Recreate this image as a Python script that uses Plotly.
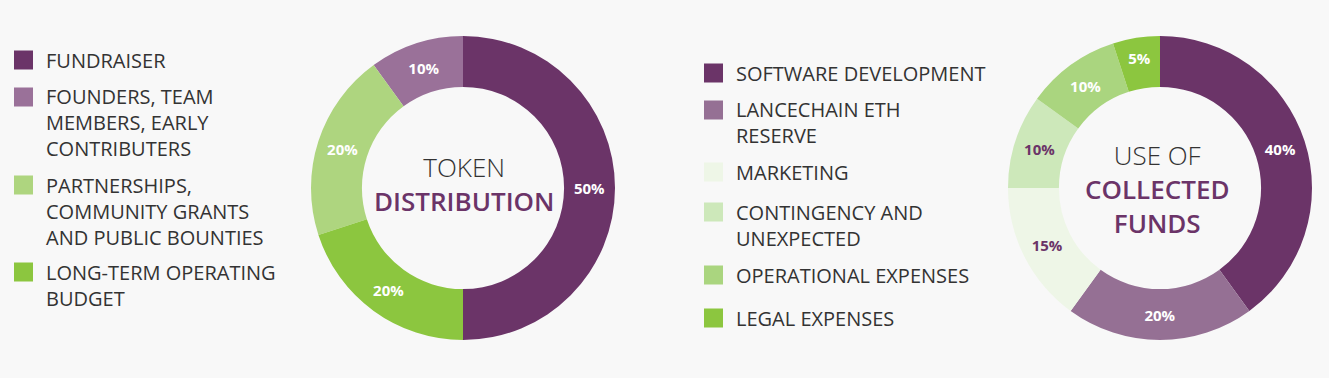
import plotly.graph_objects as go

# ---- data ----
token_labels = ["FUNDRAISER", "FOUNDERS, TEAM MEMBERS, EARLY CONTRIBUTERS",
                "PARTNERSHIPS, COMMUNITY GRANTS AND PUBLIC BOUNTIES",
                "LONG-TERM OPERATING BUDGET"]
token_legend_lines = [["FUNDRAISER"],
                      ["FOUNDERS, TEAM", "MEMBERS, EARLY", "CONTRIBUTERS"],
                      ["PARTNERSHIPS,", "COMMUNITY GRANTS", "AND PUBLIC BOUNTIES"],
                      ["LONG-TERM OPERATING", "BUDGET"]]
token_values = [50, 10, 20, 20]
token_colors = ["#6b3468", "#9a7199", "#aed57f", "#8cc63f"]
token_text_colors = ["#ffffff", "#ffffff", "#ffffff", "#ffffff"]

funds_labels = ["SOFTWARE DEVELOPMENT", "LANCECHAIN ETH RESERVE", "MARKETING",
                "CONTINGENCY AND UNEXPECTED", "OPERATIONAL EXPENSES", "LEGAL EXPENSES"]
funds_legend_lines = [["SOFTWARE DEVELOPMENT"],
                      ["LANCECHAIN ETH", "RESERVE"],
                      ["MARKETING"],
                      ["CONTINGENCY AND", "UNEXPECTED"],
                      ["OPERATIONAL EXPENSES"],
                      ["LEGAL EXPENSES"]]
funds_values = [40, 20, 15, 10, 10, 5]
funds_colors = ["#6b3468", "#957094", "#eef6e7", "#cde8ba", "#aad57f", "#8cc63f"]
funds_text_colors = ["#ffffff", "#ffffff", "#6b3468", "#6b3468", "#ffffff", "#ffffff"]

W, H = 1329, 378
BG = "#f8f8f8"
FONT = "Open Sans"
LEG_SIZE = 20
LINE_H = LEG_SIZE * 1.3

fig = go.Figure()

fig.add_trace(go.Pie(
    labels=token_labels, values=token_values, sort=False,
    direction="counterclockwise", rotation=0, hole=0.665,
    marker=dict(colors=token_colors, line=dict(width=0)),
    textinfo="percent", textposition="inside", insidetextorientation="horizontal",
    textfont=dict(family=FONT, size=15, color=token_text_colors, weight=700),
    domain=dict(x=[311 / W, 615 / W], y=[1 - 340 / H, 1 - 36 / H]),
    showlegend=False, hoverinfo="skip",
))

fig.add_trace(go.Pie(
    labels=funds_labels, values=funds_values, sort=False,
    direction="clockwise", rotation=0, hole=0.665,
    marker=dict(colors=funds_colors, line=dict(width=0)),
    textinfo="percent", textposition="inside", insidetextorientation="horizontal",
    textfont=dict(family=FONT, size=15, color=funds_text_colors, weight=700),
    domain=dict(x=[1008 / W, 1312 / W], y=[1 - 340 / H, 1 - 36 / H]),
    showlegend=False, hoverinfo="skip",
))

shapes = []
annotations = []

def add_legend(lines_list, colors, sq_x, text_x, first_y):
    for lines, col, y0 in zip(lines_list, colors, first_y):
        shapes.append(dict(type="rect", xref="paper", yref="paper",
                           x0=sq_x / W, x1=(sq_x + 19) / W,
                           y0=1 - (y0 + 9.5) / H, y1=1 - (y0 - 9.5) / H,
                           fillcolor=col, line=dict(width=0)))
        yc = y0 + (len(lines) - 1) * LINE_H / 2
        annotations.append(dict(xref="paper", yref="paper", x=text_x / W,
                                y=1 - yc / H, text="<br>".join(lines), align="left",
                                showarrow=False, xanchor="left", yanchor="middle",
                                font=dict(family=FONT, size=LEG_SIZE, color="#333333")))

add_legend(token_legend_lines, token_colors, 14, 44, [60, 97, 185, 272])
add_legend(funds_legend_lines, funds_colors, 704, 734, [73, 110, 172, 212, 275, 318])

def center_text(x, y, lines):
    txt = "<br>".join(
        "<span style='font-weight:%d;color:%s'>%s</span>" % (w, c, t) for t, w, c in lines)
    annotations.append(dict(xref="paper", yref="paper", x=x / W, y=1 - y / H, text=txt,
                            showarrow=False, xanchor="center", yanchor="middle",
                            font=dict(family=FONT, size=26, color="#333333")))

center_text(464, 184, [("TOKEN", 300, "#333333"), ("DISTRIBUTION", 600, "#6b3468")])
center_text(1157, 189, [("USE OF", 300, "#333333"), ("COLLECTED", 600, "#6b3468"),
                        ("FUNDS", 600, "#6b3468")])

fig.update_layout(
    width=W, height=H, margin=dict(l=0, r=0, t=0, b=0),
    paper_bgcolor=BG, plot_bgcolor=BG,
    shapes=shapes, annotations=annotations,
    font=dict(family=FONT),
)

post = ("document.body.style.margin='0';"
        "document.body.style.background='%s';" % BG)

fig.write_html("out.html", post_script=post, config={"displayModeBar": False})
